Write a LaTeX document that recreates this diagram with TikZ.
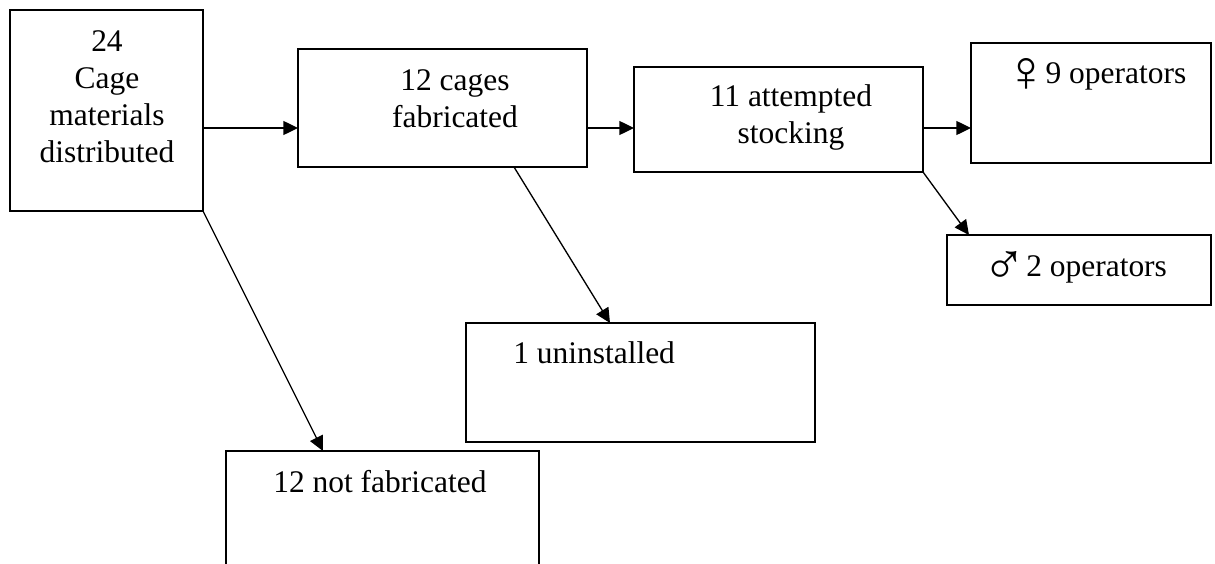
\documentclass[tikz,border=0pt]{standalone}
\usepackage{fontspec}
\setmainfont{Liberation Serif}
\usetikzlibrary{arrows.meta,fit,calc}
\newcommand{\gsym}[2]{\raisebox{#1}{\fontsize{44pt}{44pt}\selectfont #2}}
\begin{document}
\begin{tikzpicture}[x=0.75pt,y=-0.75pt,
  box/.style={draw=black,line width=1.5pt,inner sep=0pt,outer sep=0pt,rectangle},
  lbl/.style={inner sep=0pt,font=\fontsize{23.6pt}{27.75pt}\selectfont,align=center},
  arr/.style={line width=1pt,-{Triangle[length=11pt,width=10.5pt]}}]
\useasboundingbox (0,0) rectangle (1215,564);
\fill[white] (0,0) rectangle (1215,564);
% boxes
\node[box,fit={(10,10) (203,211)}] (A) {};
\node[box,fit={(298,49) (587,167)}] (B) {};
\node[box,fit={(634,67) (923,172)}] (C) {};
\node[box,fit={(971,43) (1211,163)}] (D) {};
\node[box,fit={(947,235) (1211,305)}] (E) {};
\node[box,fit={(466,323) (815,442)}] (F) {};
\node[box,fit={(226,451) (539,585)}] (G) {};
% texts (anchor base = baseline of last line)
\node[lbl,anchor=base] (tA) at (107,162) {24\\Cage\\materials\\distributed};
\node[lbl,anchor=base] (tB) at (455,127) {12 cages\\fabricated};
\node[lbl,anchor=base] (tC) at (791,143) {11 attempted\\stocking};
\node[lbl,anchor=base west] (tD) at (1016,83) {\hspace{-9pt}\gsym{-6pt}{♀}\hspace{-2pt}9 operators};
\node[lbl,anchor=base west] (tE) at (990,276) {\hspace{-6pt}\gsym{-6.5pt}{♂}\hspace{0pt}2 operators};
\node[lbl,anchor=base west] (tF) at (513,363) {1 uninstalled};
\node[lbl,anchor=base west] (tG) at (273,492) {12 not fabricated};
% connectors
\draw[arr] (A.east |- 0,128) -- (B.west |- 0,128);
\draw[arr] (B.east |- 0,128) -- (C.west |- 0,128);
\draw[arr] (C.east |- 0,128) -- (D.west |- 0,128);
\draw[arr] (A.south east) -- ($(G.north west)+(97,0)$);
\draw[arr] ($(B.south west)+(216,0)$) -- ($(F.north west)+(144,0)$);
\draw[arr] (C.south east) -- ($(E.north west)+(22,0)$);
\end{tikzpicture}
\end{document}
